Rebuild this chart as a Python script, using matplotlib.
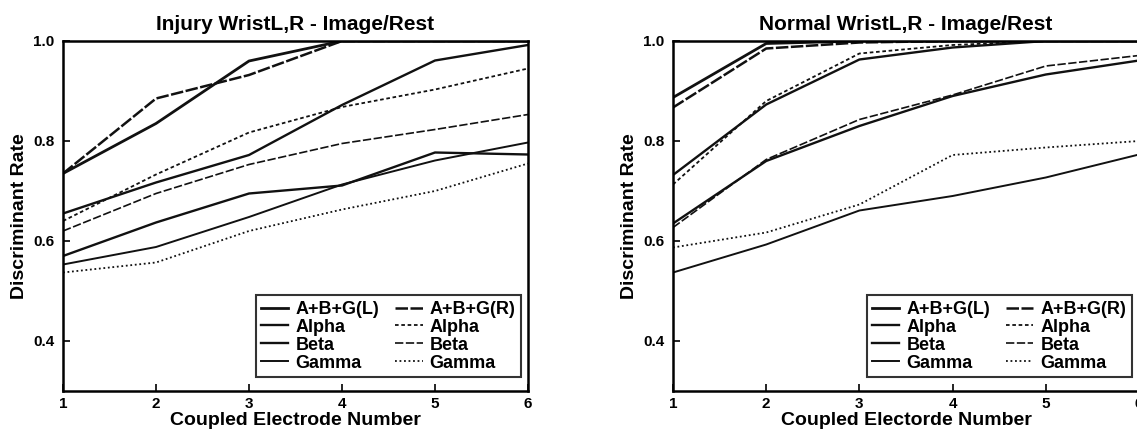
import matplotlib
matplotlib.use("Agg")
import matplotlib.pyplot as plt

plt.rcParams['font.family'] = ['Liberation Sans', 'DejaVu Sans']
plt.rcParams['font.weight'] = 'bold'

electrodes = [1, 2, 3, 4, 5, 6]
labels = ["A+B+G(L)", "Alpha", "Beta", "Gamma", "A+B+G(R)", "Alpha", "Beta", "Gamma"]

# Injury wrist, left hand
inj_abg_l = [0.735, 0.835, 0.96, 1.0, 1.0, 1.0]
inj_alpha_l = [0.655, 0.717, 0.772, 0.872, 0.961, 0.992]
inj_beta_l = [0.57, 0.637, 0.695, 0.711, 0.777, 0.773]
inj_gamma_l = [0.553, 0.588, 0.648, 0.713, 0.761, 0.797]
# Injury wrist, right hand
inj_abg_r = [0.735, 0.885, 0.932, 1.0, 1.0, 1.0]
inj_alpha_r = [0.64, 0.733, 0.817, 0.868, 0.903, 0.945]
inj_beta_r = [0.62, 0.695, 0.753, 0.795, 0.823, 0.853]
inj_gamma_r = [0.537, 0.557, 0.62, 0.663, 0.70, 0.755]

# Normal wrist, left hand
nor_abg_l = [0.887, 0.995, 1.0, 1.0, 1.0, 1.0]
nor_alpha_l = [0.732, 0.873, 0.963, 0.987, 1.0, 1.0]
nor_beta_l = [0.635, 0.76, 0.83, 0.89, 0.933, 0.961]
nor_gamma_l = [0.537, 0.593, 0.661, 0.69, 0.727, 0.773]
# Normal wrist, right hand
nor_abg_r = [0.867, 0.985, 0.997, 1.0, 1.0, 1.0]
nor_alpha_r = [0.713, 0.88, 0.975, 0.992, 1.0, 1.0]
nor_beta_r = [0.627, 0.763, 0.843, 0.892, 0.95, 0.971]
nor_gamma_r = [0.587, 0.617, 0.673, 0.772, 0.787, 0.80]

styles = [
    dict(ls='-', lw=2.0),
    dict(ls='-', lw=1.7),
    dict(ls='-', lw=1.7),
    dict(ls='-', lw=1.4),
    dict(ls=(0, (5, 1)), lw=1.8),
    dict(ls=(0, (2, 1.5)), lw=1.3),
    dict(ls=(0, (5, 1.5)), lw=1.2),
    dict(ls=(0, (1, 1.5)), lw=1.3),
]


def draw(ax, series, title, xlabel):
    for vals, lab, st in zip(series, labels, styles):
        ax.plot(electrodes, vals, color='#111111', label=lab, **st)
    ax.set_xlim(1, 6)
    ax.set_ylim(0.3, 1.0)
    ax.set_xticks(electrodes)
    ax.set_yticks([0.4, 0.6, 0.8, 1.0])
    ax.set_yticklabels(["0.4", "0.6", "0.8", "1.0"])
    ax.tick_params(direction='in', length=5, width=1.2, labelsize=11, top=False, right=False)
    ax.tick_params(axis='y', pad=6)
    ax.tick_params(axis='x', pad=4)
    for s in ax.spines.values():
        s.set_linewidth(1.8)
    ax.set_title(title, fontsize=15, fontweight='bold', pad=8)
    ax.set_xlabel(xlabel, fontsize=14, fontweight='bold', labelpad=1)
    ax.set_ylabel("Discriminant Rate", fontsize=14, fontweight='bold', labelpad=4)
    leg = ax.legend(ncol=2, loc='lower right', bbox_to_anchor=(0.985, 0.04),
                    fontsize=13, frameon=True, fancybox=False, edgecolor='black',
                    handlelength=1.5, handletextpad=0.4, columnspacing=0.9,
                    labelspacing=0.05, borderpad=0.3, borderaxespad=0)
    leg.get_frame().set_linewidth(1.5)


fig = plt.figure(figsize=(11.37, 4.32), dpi=100)
ax1 = fig.add_axes([63 / 1137, 41 / 432, 465 / 1137, 350 / 432])
ax2 = fig.add_axes([673 / 1137, 41 / 432, 466 / 1137, 350 / 432])

draw(ax1, [inj_abg_l, inj_alpha_l, inj_beta_l, inj_gamma_l,
           inj_abg_r, inj_alpha_r, inj_beta_r, inj_gamma_r],
     "Injury WristL,R - Image/Rest", "Coupled Electrode Number")
draw(ax2, [nor_abg_l, nor_alpha_l, nor_beta_l, nor_gamma_l,
           nor_abg_r, nor_alpha_r, nor_beta_r, nor_gamma_r],
     "Normal WristL,R - Image/Rest", "Coupled Electorde Number")

fig.savefig("out.png", dpi=100)
